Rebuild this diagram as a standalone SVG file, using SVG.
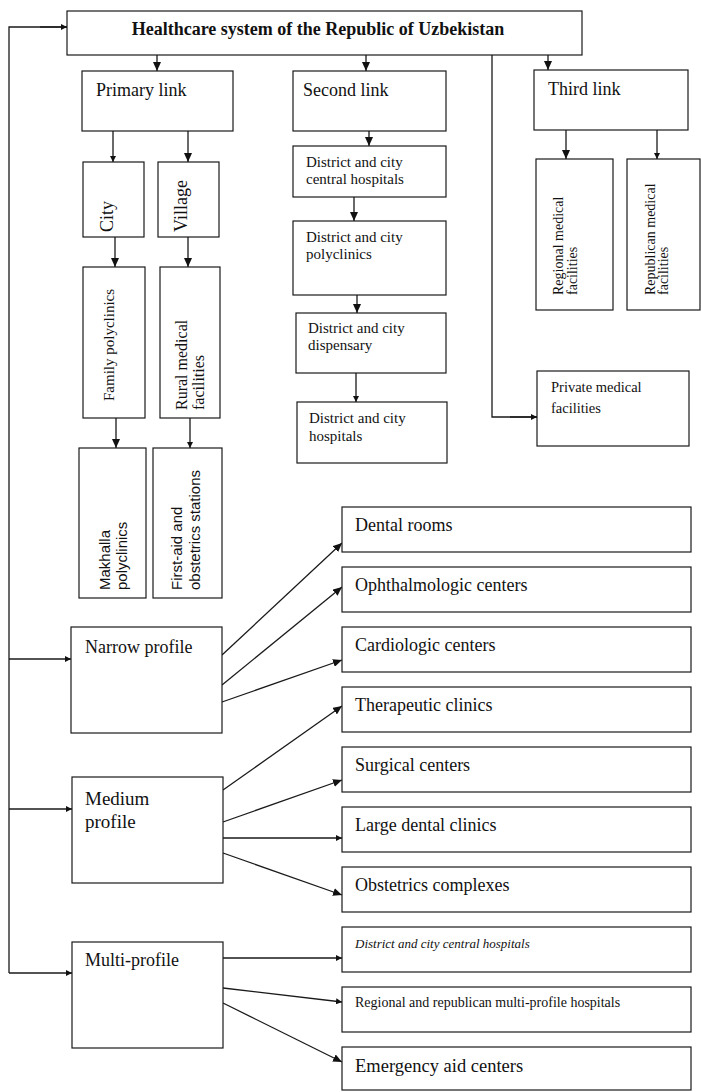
<svg xmlns="http://www.w3.org/2000/svg" width="701" height="1092" viewBox="0 0 701 1092">
<style>
  .box { fill: #ffffff; stroke: #1a1a1a; stroke-width: 1.2; }
  .ln { fill: none; stroke: #1a1a1a; stroke-width: 1.3; }
  .a { marker-end: url(#arr); }
  .s { marker-end: url(#arrS); }
  text { font-family: "Liberation Serif", "Times New Roman", serif; fill: #111; }
  .title { font-size: 18px; font-weight: bold; }
  .lnk { font-size: 18px; }
  .sec { font-size: 15px; }
  .rc { font-size: 18px; }
  .sans { font-family: "Liberation Sans", Arial, sans-serif; font-size: 15px; }
</style>
<defs>
  <marker id="arr" markerWidth="9" markerHeight="8" refX="9" refY="4" orient="auto" markerUnits="userSpaceOnUse">
    <path d="M0,0 L9,4 L0,8 z" fill="#111"/>
  </marker>
  <marker id="arrS" markerWidth="6" markerHeight="6" refX="6" refY="3" orient="auto" markerUnits="userSpaceOnUse">
    <path d="M0,0 L6,3 L0,6 z" fill="#111"/>
  </marker>
</defs>

<g id="connectors">
  <!-- left spine -->
  <polyline class="ln" points="67,27 9,27 9,973"/>
  <line class="ln s" x1="40" y1="27" x2="67" y2="27"/>
  <line class="ln s" x1="9" y1="659" x2="71" y2="659"/>
  <line class="ln s" x1="9" y1="809" x2="72" y2="809"/>
  <line class="ln s" x1="9" y1="973" x2="72" y2="973"/>
  <!-- top to links -->
  <line class="ln a" x1="157" y1="55" x2="157" y2="71"/>
  <line class="ln a" x1="366" y1="55" x2="366" y2="71"/>
  <line class="ln a" x1="548" y1="55" x2="548" y2="70"/>
  <!-- private -->
  <polyline class="ln" points="492,55 492,417 537,417"/>
  <line class="ln s" x1="510" y1="417" x2="537" y2="417"/>
  <!-- primary column -->
  <line class="ln s" x1="113" y1="131" x2="113" y2="162"/>
  <line class="ln a" x1="188" y1="131" x2="188" y2="162"/>
  <line class="ln a" x1="115" y1="237" x2="115" y2="267"/>
  <line class="ln a" x1="188" y1="237" x2="188" y2="267"/>
  <line class="ln a" x1="116" y1="418" x2="116" y2="448"/>
  <line class="ln s" x1="190" y1="418" x2="190" y2="448"/>
  <!-- second column -->
  <line class="ln a" x1="369" y1="131" x2="369" y2="146"/>
  <line class="ln a" x1="354" y1="197" x2="354" y2="221"/>
  <line class="ln a" x1="357" y1="295" x2="357" y2="313"/>
  <line class="ln s" x1="356" y1="373" x2="356" y2="402"/>
  <!-- third column -->
  <line class="ln a" x1="566" y1="130" x2="566" y2="159"/>
  <line class="ln s" x1="657" y1="130" x2="657" y2="159"/>
  <!-- narrow -->
  <line class="ln a" x1="222" y1="655" x2="342" y2="543"/>
  <line class="ln a" x1="222" y1="685" x2="342" y2="587"/>
  <line class="ln a" x1="222" y1="702" x2="342" y2="660"/>
  <!-- medium -->
  <line class="ln a" x1="223" y1="790" x2="342" y2="706"/>
  <line class="ln a" x1="223" y1="822" x2="342" y2="780"/>
  <line class="ln s" x1="223" y1="838" x2="342" y2="838"/>
  <line class="ln a" x1="223" y1="853" x2="342" y2="895"/>
  <!-- multi -->
  <line class="ln s" x1="223" y1="958" x2="342" y2="958"/>
  <line class="ln s" x1="223" y1="988" x2="342" y2="1002"/>
  <line class="ln a" x1="223" y1="1003" x2="342" y2="1062"/>
</g>

<g id="n-root"><rect class="box" x="67" y="11" width="515" height="44"/><text class="title" x="318" y="35" text-anchor="middle">Healthcare system of the Republic of Uzbekistan</text></g>

<g id="n-primary"><rect class="box" x="82" y="71" width="151" height="60"/><text class="lnk" x="96" y="96">Primary link</text></g>
<g id="n-second"><rect class="box" x="293" y="71" width="153" height="60"/><text class="lnk" x="303" y="96">Second link</text></g>
<g id="n-third"><rect class="box" x="534" y="70" width="154" height="60"/><text class="lnk" x="548" y="95">Third link</text></g>

<g id="n-city"><rect class="box" x="83" y="162" width="61" height="75"/><text class="lnk" transform="translate(113,232) rotate(-90)">City</text></g>
<g id="n-village"><rect class="box" x="158" y="162" width="61" height="75"/><text class="lnk" transform="translate(187,232) rotate(-90)">Village</text></g>
<g id="n-family"><rect class="box" x="83" y="267" width="62" height="151"/><text style="font-size:15px" transform="translate(114,401) rotate(-90)">Family polyclinics</text></g>
<g id="n-rural"><rect class="box" x="160" y="267" width="60" height="151"/><text style="font-size:16px" transform="translate(187,410) rotate(-90)"><tspan x="0" y="0">Rural medical</tspan><tspan x="0" dy="17">facilities</tspan></text></g>
<g id="n-makhalla"><rect class="box" x="79" y="448" width="67" height="150"/><text class="sans" transform="translate(110,590) rotate(-90)"><tspan x="0" y="0">Makhalla</tspan><tspan x="0" dy="17">polyclinics</tspan></text></g>
<g id="n-firstaid"><rect class="box" x="153" y="448" width="69" height="150"/><text class="sans" transform="translate(182,590) rotate(-90)"><tspan x="0" y="0">First-aid and</tspan><tspan x="0" dy="18">obstetrics stations</tspan></text></g>

<g id="n-dch"><rect class="box" x="293" y="146" width="153" height="51"/><text class="sec" x="306" y="167"><tspan x="306">District and city</tspan><tspan x="306" dy="17">central hospitals</tspan></text></g>
<g id="n-dcp"><rect class="box" x="293" y="221" width="153" height="74"/><text class="sec" x="306" y="242"><tspan x="306">District and city</tspan><tspan x="306" dy="17">polyclinics</tspan></text></g>
<g id="n-dcd"><rect class="box" x="296" y="313" width="150" height="60"/><text class="sec" x="308" y="333"><tspan x="308">District and city</tspan><tspan x="308" dy="17">dispensary</tspan></text></g>
<g id="n-dchos"><rect class="box" x="297" y="402" width="150" height="61"/><text class="sec" x="309" y="423"><tspan x="309">District and city</tspan><tspan x="309" dy="18">hospitals</tspan></text></g>

<g id="n-regional"><rect class="box" x="536" y="159" width="77" height="151"/><text style="font-size:14px" transform="translate(563,295) rotate(-90)"><tspan x="0" y="0">Regional medical</tspan><tspan x="0" dy="14">facilities</tspan></text></g>
<g id="n-republican"><rect class="box" x="627" y="159" width="73" height="151"/><text style="font-size:14px" transform="translate(655,295) rotate(-90)"><tspan x="0" y="0">Republican medical</tspan><tspan x="0" dy="13">facilities</tspan></text></g>
<g id="n-private"><rect class="box" x="537" y="371" width="152" height="75"/><text style="font-size:14.5px" x="551" y="392"><tspan x="551">Private medical</tspan><tspan x="551" dy="21">facilities</tspan></text></g>

<g id="n-narrow"><rect class="box" x="71" y="627" width="151" height="106"/><text class="lnk" x="85" y="653">Narrow profile</text></g>
<g id="n-medium"><rect class="box" x="72" y="777" width="151" height="106"/><text style="font-size:19px" x="85" y="805"><tspan x="85">Medium</tspan><tspan x="85" dy="23">profile</tspan></text></g>
<g id="n-multi"><rect class="box" x="72" y="942" width="151" height="106"/><text class="lnk" x="85" y="966">Multi-profile</text></g>

<g id="n-dental"><rect class="box" x="342" y="507" width="349" height="45"/><text class="rc" x="355" y="531">Dental rooms</text></g>
<g id="n-ophth"><rect class="box" x="342" y="567" width="349" height="45"/><text class="rc" x="355" y="591">Ophthalmologic centers</text></g>
<g id="n-cardio"><rect class="box" x="342" y="627" width="349" height="45"/><text class="rc" x="355" y="651">Cardiologic centers</text></g>
<g id="n-thera"><rect class="box" x="342" y="687" width="349" height="45"/><text class="rc" x="355" y="711">Therapeutic clinics</text></g>
<g id="n-surg"><rect class="box" x="342" y="747" width="349" height="45"/><text class="rc" x="355" y="771">Surgical centers</text></g>
<g id="n-large"><rect class="box" x="342" y="807" width="349" height="45"/><text class="rc" x="355" y="831">Large dental clinics</text></g>
<g id="n-obst"><rect class="box" x="342" y="867" width="349" height="45"/><text class="rc" x="355" y="891">Obstetrics complexes</text></g>
<g id="n-dcch"><rect class="box" x="342" y="927" width="349" height="45"/><text style="font-size:13px; font-style:italic" x="355" y="948">District and city central hospitals</text></g>
<g id="n-rrmh"><rect class="box" x="342" y="987" width="349" height="45"/><text style="font-size:14px" x="355" y="1007">Regional and republican multi-profile hospitals</text></g>
<g id="n-emerg"><rect class="box" x="342" y="1047" width="349" height="43"/><text style="font-size:18.5px" x="355" y="1072">Emergency aid centers</text></g>
</svg>
